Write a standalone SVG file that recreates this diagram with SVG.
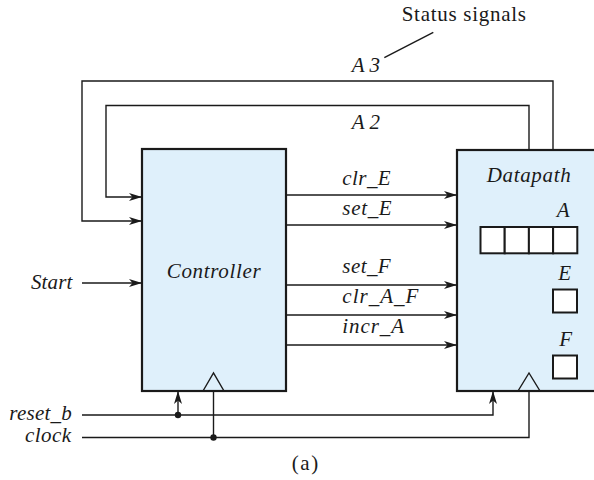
<svg xmlns="http://www.w3.org/2000/svg" width="594" height="480" viewBox="0 0 594 480">
<style>
.box{fill:#dff0fb;stroke:#1a1a1a;stroke-width:2.2}
.reg{fill:#ffffff;stroke:#1a1a1a;stroke-width:2}
.w{fill:none;stroke:#1a1a1a;stroke-width:1.4}
.a{fill:none;stroke:#1a1a1a;stroke-width:1.4;marker-end:url(#arr)}
.t{font-family:"Liberation Serif","Times New Roman",serif;font-size:21px;font-style:italic;fill:#1a1a1a}
.u{font-family:"Liberation Serif","Times New Roman",serif;font-size:21px;fill:#1a1a1a}
.dot{fill:#1a1a1a}
</style>
<defs>
<marker id="arr" markerWidth="14" markerHeight="9" refX="13" refY="4.5" orient="auto" markerUnits="userSpaceOnUse">
<path d="M0,0.5 L13,4.5 L0,8.5 L3.5,4.5 Z" fill="#1a1a1a"/>
</marker>
</defs>
<g id="controller">
<rect class="box" x="142" y="149" width="144" height="242"/>
<polygon class="w" points="203,391 213.5,373 224,391"/>
<text class="t" x="166.7" y="277.7" textLength="94" lengthAdjust="spacing">Controller</text>
</g>
<g id="datapath">
<rect class="box" x="457" y="150" width="150" height="241"/>
<polygon class="w" points="518,391 529,373 540,391"/>
<text class="t" x="486.7" y="181.7" textLength="84" lengthAdjust="spacing">Datapath</text>
<text class="t" x="556.7" y="216.7" textLength="15" lengthAdjust="spacing">A</text>
<rect class="reg" x="480.5" y="227" width="24.2" height="26.3"/>
<rect class="reg" x="504.7" y="227" width="24.2" height="26.3"/>
<rect class="reg" x="528.9" y="227" width="24.2" height="26.3"/>
<rect class="reg" x="553.1" y="227" width="24.2" height="26.3"/>
<text class="t" x="558.3" y="280" textLength="13.4" lengthAdjust="spacing">E</text>
<rect class="reg" x="553" y="289.5" width="24" height="23"/>
<text class="t" x="559.3" y="346" textLength="13.4" lengthAdjust="spacing">F</text>
<rect class="reg" x="553" y="355.5" width="24" height="23"/>
</g>
<g id="connectors">
<polyline class="a" points="553,150 553,81 82,81 82,221 142,221"/>
<polyline class="a" points="529,150 529,105.5 106,105.5 106,197 142,197"/>
<line class="a" x1="286" y1="195" x2="457" y2="195"/>
<line class="a" x1="286" y1="225" x2="457" y2="225"/>
<line class="a" x1="286" y1="285" x2="457" y2="285"/>
<line class="a" x1="286" y1="315" x2="457" y2="315"/>
<line class="a" x1="286" y1="345" x2="457" y2="345"/>
<line class="a" x1="82" y1="283" x2="142" y2="283"/>
<polyline class="a" points="82,415 493,415 493,391"/>
<line class="a" x1="178" y1="415" x2="178" y2="391"/>
<circle class="dot" cx="178" cy="415" r="3.2"/>
<polyline class="w" points="82,437.5 529,437.5 529,391"/>
<line class="w" x1="213.5" y1="437.5" x2="213.5" y2="391"/>
<circle class="dot" cx="213.5" cy="437.5" r="3.2"/>
<line class="w" x1="384.3" y1="57.7" x2="433.3" y2="32.3"/>
</g>
<g id="labels">
<text class="u" x="401.7" y="20.7" textLength="124.3" lengthAdjust="spacing">Status signals</text>
<text class="t" x="351.7" y="71.7" textLength="28.3" lengthAdjust="spacing">A3</text>
<text class="t" x="351.7" y="129.3" textLength="28.3" lengthAdjust="spacing">A2</text>
<text class="t" x="342.3" y="185" textLength="48.4" lengthAdjust="spacing">clr_E</text>
<text class="t" x="342.3" y="215" textLength="49.4" lengthAdjust="spacing">set_E</text>
<text class="t" x="342.3" y="273.3" textLength="48.4" lengthAdjust="spacing">set_F</text>
<text class="t" x="342.3" y="303.3" textLength="76" lengthAdjust="spacing">clr_A_F</text>
<text class="t" x="342.3" y="333.3" textLength="61.7" lengthAdjust="spacing">incr_A</text>
<text class="t" x="31" y="289" textLength="41.3" lengthAdjust="spacing">Start</text>
<text class="t" x="9.3" y="420" textLength="62.4" lengthAdjust="spacing">reset_b</text>
<text class="t" x="25" y="442" textLength="46" lengthAdjust="spacing">clock</text>
<text class="u" x="291.7" y="470" textLength="26.6" lengthAdjust="spacing">(a)</text>
</g>
</svg>
